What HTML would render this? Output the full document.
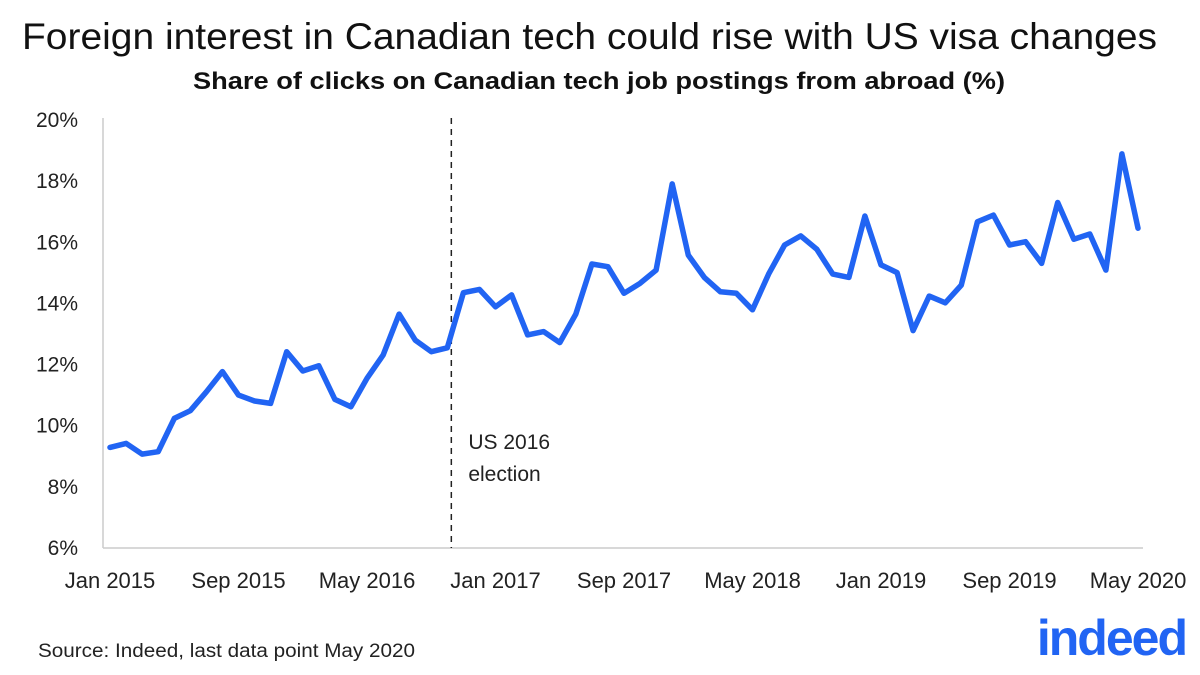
<!DOCTYPE html>
<html><head><meta charset="utf-8"><style>
body{margin:0;background:#fff;font-family:"Liberation Sans",sans-serif}
svg{display:block}
</style></head><body>
<svg id="c" width="1200" height="675" xmlns="http://www.w3.org/2000/svg">
<text x="22" y="49" textLength="1135" lengthAdjust="spacingAndGlyphs" font-size="37" fill="#111">Foreign interest in Canadian tech could rise with US visa changes</text>
<text x="193" y="89" textLength="812" lengthAdjust="spacingAndGlyphs" font-size="24" font-weight="bold" fill="#111">Share of clicks on Canadian tech job postings from abroad (%)</text>
<line x1="103" y1="118" x2="103" y2="548" stroke="#ccc" stroke-width="1.5"/>
<line x1="103" y1="548" x2="1143" y2="548" stroke="#ccc" stroke-width="1.5"/>
<g id="yt"></g><g id="xt"></g>
<line id="elec" y1="118" y2="548" stroke="#222" stroke-width="1.5" stroke-dasharray="6,5"/>
<text id="elt1" y="449" font-size="21" fill="#222">US 2016</text>
<text id="elt2" y="481" font-size="21" fill="#222">election</text>
<path id="line" fill="none" stroke="#2164f3" stroke-width="5.5" stroke-linejoin="round" stroke-linecap="round"/>
<text x="38" y="657" textLength="377" lengthAdjust="spacingAndGlyphs" font-size="19" fill="#222">Source: Indeed, last data point May 2020</text>
<text x="1186" y="655" text-anchor="end" font-size="50" font-weight="bold" fill="#2164f3" letter-spacing="-2">indeed</text>
</svg>
<script>
const values=[9.29,9.42,9.07,9.15,10.24,10.49,11.11,11.77,11.0,10.81,10.73,12.42,11.79,11.96,10.86,10.62,11.55,12.31,13.65,12.8,12.42,12.55,14.35,14.46,13.89,14.28,12.97,13.08,12.72,13.65,15.29,15.2,14.33,14.66,15.09,17.91,15.58,14.85,14.38,14.33,13.79,14.96,15.91,16.21,15.77,14.96,14.85,16.86,15.26,15.01,13.11,14.24,14.02,14.6,16.67,16.89,15.91,16.02,15.31,17.3,16.1,16.27,15.09,18.89,16.46];
const xLabels=["Jan 2015","Sep 2015","May 2016","Jan 2017","Sep 2017","May 2018","Jan 2019","Sep 2019","May 2020"];
const xLabelIdx=[0,8,16,24,32,40,48,56,64];
const yTicks=[6,8,10,12,14,16,18,20];
const electionIdx=21.25;
const NS="http://www.w3.org/2000/svg";
const X=i=>110+i*(1138-110)/64;
const Y=v=>548-(v-6)*(548-120)/14;
const yt=document.getElementById('yt');
yTicks.forEach(t=>{const e=document.createElementNS(NS,'text');
e.setAttribute('x',78);e.setAttribute('y',Y(t)+7);e.setAttribute('text-anchor','end');e.setAttribute('font-size','21');e.setAttribute('fill','#222');


e.textContent=t+'%';yt.appendChild(e);});
const xt=document.getElementById('xt');
xLabels.forEach((l,k)=>{const e=document.createElementNS(NS,'text');
e.setAttribute('x',X(xLabelIdx[k]));e.setAttribute('y',588);e.setAttribute('text-anchor','middle');e.setAttribute('font-size','22');e.setAttribute('fill','#222');


e.textContent=l;xt.appendChild(e);});
const ex=X(electionIdx);
const el=document.getElementById('elec');el.setAttribute('x1',ex);el.setAttribute('x2',ex);
document.getElementById('elt1').setAttribute('x',ex+17);
document.getElementById('elt2').setAttribute('x',ex+17);
document.getElementById('line').setAttribute('d',values.map((v,i)=>(i?'L':'M')+X(i).toFixed(1)+','+Y(v).toFixed(1)).join(''));
</script>
</body></html>
